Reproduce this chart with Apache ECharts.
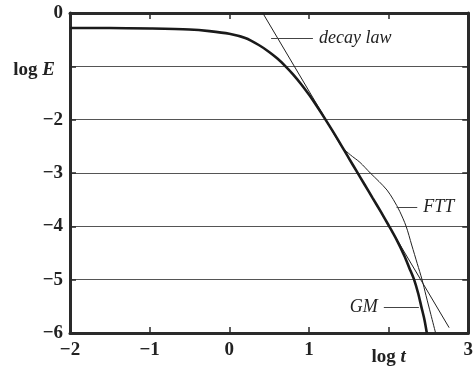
<!DOCTYPE html>
<html>
<head>
<meta charset="utf-8">
<script src="https://cdn.jsdelivr.net/npm/echarts@6/dist/echarts.min.js"></script>
<style>
  html, body { margin: 0; padding: 0; background: #fff; }
  #chart { width: 476px; height: 369px; }
</style>
</head>
<body>
<div id="chart"></div>
<script>
// log t / log E samples for each model
const gmX = [-2, -1.5, -1, -0.5, -0.25, 0, 0.2, 0.37, 0.5, 0.6, 0.7, 0.8, 0.9, 1.0, 1.1, 1.2, 1.35, 1.5, 1.6, 1.7, 1.8, 1.9, 2.0, 2.1, 2.2, 2.26, 2.32, 2.37, 2.41, 2.45, 2.48];
const gmY = [-0.28, -0.28, -0.29, -0.31, -0.34, -0.39, -0.47, -0.60, -0.73, -0.85, -0.99, -1.15, -1.33, -1.53, -1.75, -1.98, -2.34, -2.72, -2.97, -3.22, -3.47, -3.72, -3.98, -4.25, -4.56, -4.78, -5.0, -5.25, -5.5, -5.75, -6.0];

const fttX = [-2, -1.5, -1, -0.5, -0.25, 0, 0.2, 0.37, 0.5, 0.6, 0.7, 0.8, 0.9, 1.0, 1.1, 1.2, 1.35, 1.42, 1.52, 1.64, 1.77, 1.88, 1.98, 2.06, 2.14, 2.22, 2.29, 2.36, 2.42, 2.47, 2.53, 2.59];
const fttY = [-0.28, -0.28, -0.29, -0.31, -0.34, -0.39, -0.47, -0.60, -0.73, -0.85, -0.99, -1.15, -1.33, -1.53, -1.75, -1.98, -2.36, -2.52, -2.66, -2.80, -3.0, -3.16, -3.32, -3.5, -3.72, -4.0, -4.35, -4.7, -5.0, -5.3, -5.65, -6.0];

const decayX = [0.42, 2.76];
const decayY = [0, -5.9];

// Tick labels
const xTicks = { '-2': '\u22122', '-1': '\u22121', '0': '0', '1': '1', '2': '{lg|log }{it|t}', '3': '3' };
const yTicks = { '0': '0', '-1': '{lg|log }{it|E}', '-2': '\u22122', '-3': '\u22123', '-4': '\u22124', '-5': '\u22125', '-6': '\u22126' };

// Curve annotations: leader segment [x1, x2] at level y, with text
const decayNote = { x: [0.525, 1.05], y: -0.47, text: 'decay law' };
const fttNote = { x: [2.10, 2.36], y: -3.64, text: 'FTT' };
const gmNote = { x: [2.38, 1.94], y: -5.51, text: 'GM' };

const pairs = (xs, ys) => xs.map((x, i) => [x, ys[i]]);
const SERIF = "'Liberation Serif', 'Times New Roman', serif";
const INK = '#222';

const baseLabel = { fontFamily: SERIF, fontWeight: 'bold', fontSize: 19, color: INK };

function note(n) {
  return {
    symbol: ['none', 'none'],
    silent: true,
    animation: false,
    lineStyle: { color: '#444', width: 1, type: 'solid' },
    label: {
      show: true, position: 'end', distance: 6,
      formatter: n.text,
      fontFamily: SERIF, fontStyle: 'italic', fontSize: 18, color: INK
    },
    data: [[{ coord: [n.x[0], n.y] }, { coord: [n.x[1], n.y] }]]
  };
}

const chart = echarts.init(document.getElementById('chart'), null, { renderer: 'canvas' });

const frameLine = { show: true, onZero: false, lineStyle: { color: '#2a2a2a', width: 3 } };
const tick = { show: true, inside: true, length: 6, lineStyle: { color: '#2a2a2a', width: 1.5 } };

chart.setOption({
  animation: false,
  backgroundColor: '#fff',
  grid: { left: 70, right: 6, top: 13, bottom: 36 },
  xAxis: [
    {
      type: 'value', min: -2, max: 3, interval: 1, position: 'bottom',
      axisLine: frameLine, axisTick: tick, splitLine: { show: false },
      axisLabel: Object.assign({}, baseLabel, {
        margin: 8, showMinLabel: true, showMaxLabel: true,
        formatter: v => xTicks[String(v)] || '',
        rich: {
          lg: Object.assign({}, baseLabel, { padding: [7, 0, 0, 0] }),
          it: Object.assign({}, baseLabel, { fontStyle: 'italic', padding: [7, 0, 0, 0] })
        }
      })
    },
    {
      type: 'value', min: -2, max: 3, interval: 1, position: 'top',
      axisLine: frameLine, axisTick: tick, splitLine: { show: false },
      axisLabel: { show: false }
    }
  ],
  yAxis: [
    {
      type: 'value', min: -6, max: 0, interval: 1, position: 'left',
      axisLine: frameLine, axisTick: tick,
      splitLine: { show: true, lineStyle: { color: '#555', width: 1 } },
      axisLabel: Object.assign({}, baseLabel, {
        margin: 7, showMinLabel: true, showMaxLabel: true,
        formatter: v => yTicks[String(v)] || '',
        rich: {
          lg: Object.assign({}, baseLabel, { padding: [8, 0, 0, 0] }),
          it: Object.assign({}, baseLabel, { fontStyle: 'italic', padding: [8, 8, 0, 0] })
        }
      })
    },
    {
      type: 'value', min: -6, max: 0, interval: 1, position: 'right',
      axisLine: frameLine, axisTick: tick, splitLine: { show: false },
      axisLabel: { show: false }
    }
  ],
  series: [
    {
      name: 'decay law', type: 'line', data: pairs(decayX, decayY),
      showSymbol: false, clip: true,
      lineStyle: { color: INK, width: 1 },
      markLine: note(decayNote), z: 3
    },
    {
      name: 'FTT', type: 'line', data: pairs(fttX, fttY),
      showSymbol: false, smooth: 0.3, clip: true,
      lineStyle: { color: INK, width: 1 },
      markLine: note(fttNote), z: 3
    },
    {
      name: 'GM', type: 'line', data: pairs(gmX, gmY),
      showSymbol: false, smooth: 0.3, clip: true,
      lineStyle: { color: '#1a1a1a', width: 2.6 },
      markLine: note(gmNote), z: 4
    }
  ]
});
</script>
</body>
</html>
